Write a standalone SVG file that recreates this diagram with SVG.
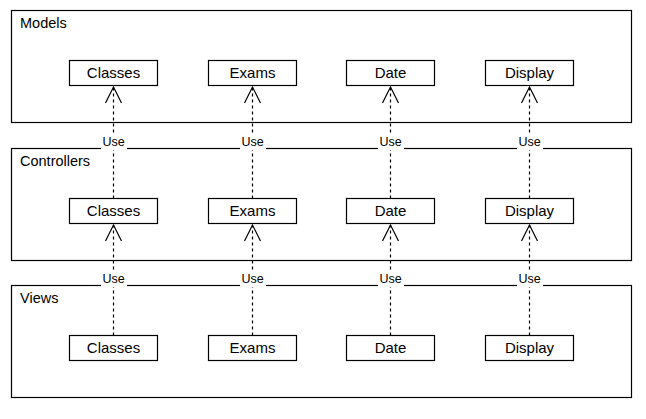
<svg xmlns="http://www.w3.org/2000/svg" width="646" height="419" viewBox="0 0 646 419">
<style>
.grp{fill:#fff;stroke:#000;stroke-width:1.2}
.node{fill:#fff;stroke:#000;stroke-width:1.2}
.gt{font-family:"Liberation Sans",Arial,sans-serif;font-size:14.5px;fill:#000}
.nt{font-family:"Liberation Sans",Arial,sans-serif;font-size:15px;fill:#000;text-anchor:middle}
.edge{fill:none;stroke:#000;stroke-width:1.2;stroke-dasharray:3 3}
.head{fill:none;stroke:#000;stroke-width:1.2}
.lb{fill:#fff}
.lt{font-family:"Liberation Sans",Arial,sans-serif;font-size:12.5px;fill:#000;text-anchor:middle}
</style>
<rect width="646" height="419" fill="#fff"/>
<g id="models">
<rect class="grp" x="11.5" y="10.5" width="620" height="112"/>
<text class="gt" x="20" y="27.5">Models</text>
</g>
<g id="controllers">
<rect class="grp" x="11.5" y="148.5" width="620" height="112"/>
<text class="gt" x="20" y="165.5">Controllers</text>
</g>
<g id="views">
<rect class="grp" x="11.5" y="285.5" width="620" height="112"/>
<text class="gt" x="20" y="302.5">Views</text>
</g>
<g id="m-classes"><rect class="node" x="69.5" y="60.5" width="88" height="25"/><text class="nt" x="113.5" y="78">Classes</text></g>
<g id="m-exams"><rect class="node" x="208.5" y="60.5" width="88" height="25"/><text class="nt" x="252.5" y="78">Exams</text></g>
<g id="m-date"><rect class="node" x="346.5" y="60.5" width="88" height="25"/><text class="nt" x="390.5" y="78">Date</text></g>
<g id="m-display"><rect class="node" x="485.5" y="60.5" width="88" height="25"/><text class="nt" x="529.5" y="78">Display</text></g>
<g id="c-classes"><rect class="node" x="69.5" y="198.5" width="88" height="25"/><text class="nt" x="113.5" y="216">Classes</text></g>
<g id="c-exams"><rect class="node" x="208.5" y="198.5" width="88" height="25"/><text class="nt" x="252.5" y="216">Exams</text></g>
<g id="c-date"><rect class="node" x="346.5" y="198.5" width="88" height="25"/><text class="nt" x="390.5" y="216">Date</text></g>
<g id="c-display"><rect class="node" x="485.5" y="198.5" width="88" height="25"/><text class="nt" x="529.5" y="216">Display</text></g>
<g id="v-classes"><rect class="node" x="69.5" y="335.5" width="88" height="25"/><text class="nt" x="113.5" y="353">Classes</text></g>
<g id="v-exams"><rect class="node" x="208.5" y="335.5" width="88" height="25"/><text class="nt" x="252.5" y="353">Exams</text></g>
<g id="v-date"><rect class="node" x="346.5" y="335.5" width="88" height="25"/><text class="nt" x="390.5" y="353">Date</text></g>
<g id="v-display"><rect class="node" x="485.5" y="335.5" width="88" height="25"/><text class="nt" x="529.5" y="353">Display</text></g>
<g id="connectors">
<path class="edge" d="M113.5 198.5V87M252.5 198.5V87M390.5 198.5V87M529.5 198.5V87"/>
<path class="head" d="M105.5 103L113.5 87L121.5 103M244.5 103L252.5 87L260.5 103M382.5 103L390.5 87L398.5 103M521.5 103L529.5 87L537.5 103"/>
<path class="edge" d="M113.5 335.5V225M252.5 335.5V225M390.5 335.5V225M529.5 335.5V225"/>
<path class="head" d="M105.5 241L113.5 225L121.5 241M244.5 241L252.5 225L260.5 241M382.5 241L390.5 225L398.5 241M521.5 241L529.5 225L537.5 241"/>
<rect class="lb" x="101" y="135" width="26" height="15"/>
<rect class="lb" x="240" y="135" width="26" height="15"/>
<rect class="lb" x="378" y="135" width="26" height="15"/>
<rect class="lb" x="517" y="135" width="26" height="15"/>
<text class="lt" x="113.5" y="146">Use</text>
<text class="lt" x="252.5" y="146">Use</text>
<text class="lt" x="390.5" y="146">Use</text>
<text class="lt" x="529.5" y="146">Use</text>
<rect class="lb" x="101" y="272" width="26" height="15"/>
<rect class="lb" x="240" y="272" width="26" height="15"/>
<rect class="lb" x="378" y="272" width="26" height="15"/>
<rect class="lb" x="517" y="272" width="26" height="15"/>
<text class="lt" x="113.5" y="283">Use</text>
<text class="lt" x="252.5" y="283">Use</text>
<text class="lt" x="390.5" y="283">Use</text>
<text class="lt" x="529.5" y="283">Use</text>
</g>
</svg>
